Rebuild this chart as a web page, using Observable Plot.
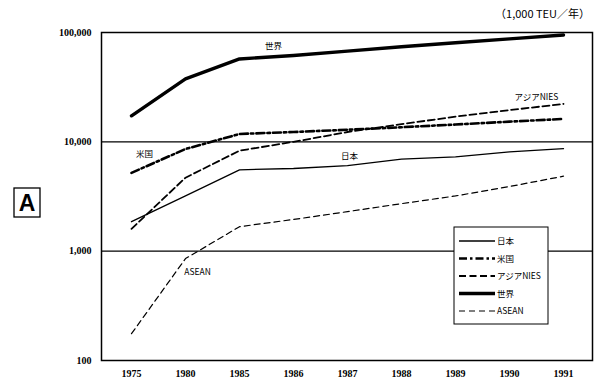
<!DOCTYPE html>
<html><head><meta charset="utf-8">
<script src="https://cdn.jsdelivr.net/npm/d3@7"></script>
<script src="https://cdn.jsdelivr.net/npm/@observablehq/plot@0.6"></script>
<style>
body{margin:0;background:#fff;}
#chart{position:relative;width:600px;height:383px;}
</style>
</head><body><div id="chart"></div>
<script>
const years = ["1975","1980","1985","1986","1987","1988","1989","1990","1991"];
const japan = [1860, 3200, 5550, 5700, 6050, 6950, 7300, 8100, 8650];
const usa   = [5200, 8600, 11800, 12300, 12900, 13600, 14400, 15300, 16200];
const nies  = [1600, 4700, 8300, 10000, 12300, 14500, 17000, 19500, 22200];
const world = [17300, 37600, 57300, 61600, 67600, 74000, 80500, 87500, 94900];
const asean = [176, 855, 1675, 1950, 2300, 2720, 3200, 3900, 4850];
const seriesNames = ["日本", "米国", "アジアNIES", "世界", "ASEAN"];
const seriesValues = [japan, usa, nies, world, asean];
const yTicks = [100, 1000, 10000, 100000];
const unitLabel = "（1,000 TEU／年）";
const panelLabel = "A";
// in-chart labels: series, anchor year, value
const labelNames = ["世界", "アジアNIES", "米国", "日本", "ASEAN"];
const labelYears = ["1985", "1990", "1975", "1987", "1980"];
const labelValues = [75300, 25800, 7770, 7450, 637];

const styles = {
  "日本": {w: 1.3, dash: null},
  "米国": {w: 2.6, dash: "8,3,2.5,3"},
  "アジアNIES": {w: 1.8, dash: "7,3.5"},
  "世界": {w: 3.4, dash: null},
  "ASEAN": {w: 1.2, dash: "6,4"}
};
const labelDx = {"世界": 34, "アジアNIES": 27, "米国": 13, "日本": 2, "ASEAN": 12};

const rows = [];
seriesNames.forEach((s, i) => years.forEach((y, j) => rows.push({series: s, year: y, value: seriesValues[i][j]})));
const labels = labelNames.map((n, i) => ({name: n, year: labelYears[i], value: labelValues[i]}));

const serif = "'Liberation Serif', 'DejaVu Serif', serif";
const jp = "'Noto Sans CJK JP', 'Noto Sans', sans-serif";

const marks = [
  Plot.ruleY([1000, 10000], {stroke: "#000", strokeWidth: 1.2}),
  Plot.frame({stroke: "#000", strokeWidth: 1.5})
];
seriesNames.forEach(s => {
  marks.push(Plot.line(rows.filter(r => r.series === s), {
    x: "year", y: "value", stroke: "#000", strokeWidth: styles[s].w,
    strokeDasharray: styles[s].dash || undefined, strokeLinejoin: "round", curve: "linear"
  }));
});
labelNames.forEach(n => {
  marks.push(Plot.text(labels.filter(l => l.name === n), {
    x: "year", y: "value", text: "name", dx: labelDx[n], fontSize: 8.5, fill: "#000", fontFamily: jp
  }));
});
marks.push(Plot.axisY({ticks: yTicks, tickFormat: d3.format(","), tickSize: 0, tickPadding: 10,
  fontSize: 10, fontWeight: "bold", fontFamily: serif, label: null}));
marks.push(Plot.axisX({tickSize: 0, tickPadding: 9, fontSize: 10, fontWeight: "bold", fontFamily: serif, label: null}));

const chart = Plot.plot({
  width: 600, height: 383,
  marginLeft: 101, marginRight: 8, marginTop: 32, marginBottom: 23,
  x: {type: "point", domain: years, padding: 0.5},
  y: {type: "log", domain: [100, 100000]},
  style: {background: "#fff", color: "#000"},
  marks
});
document.getElementById("chart").appendChild(chart);

const svg = d3.select(chart);
// unit label
svg.append("text").attr("x", 590).attr("y", 18).attr("text-anchor", "end")
  .attr("font-family", jp).attr("font-size", 11).text(unitLabel);
// panel label
svg.append("rect").attr("x", 14).attr("y", 188).attr("width", 26).attr("height", 29)
  .attr("fill", "#fff").attr("stroke", "#000").attr("stroke-width", 1.3);
svg.append("text").attr("x", 27).attr("y", 211).attr("text-anchor", "middle")
  .attr("font-family", "'Liberation Sans', Arial, sans-serif").attr("font-weight", "bold")
  .attr("font-size", 23).text(panelLabel);
// legend
const lg = svg.append("g");
lg.append("rect").attr("x", 454).attr("y", 227).attr("width", 94).attr("height", 97)
  .attr("fill", "#fff").attr("stroke", "#000").attr("stroke-width", 1);
seriesNames.forEach((s, i) => {
  const yy = 241 + i * 17.5;
  lg.append("line").attr("x1", 459).attr("x2", 495).attr("y1", yy).attr("y2", yy)
    .attr("stroke", "#000").attr("stroke-width", styles[s].w)
    .attr("stroke-dasharray", styles[s].dash);
  lg.append("text").attr("x", 497).attr("y", yy + 3).attr("text-anchor", "start")
    .attr("font-family", jp).attr("font-size", 8.5).text(s);
});
</script></body></html>
